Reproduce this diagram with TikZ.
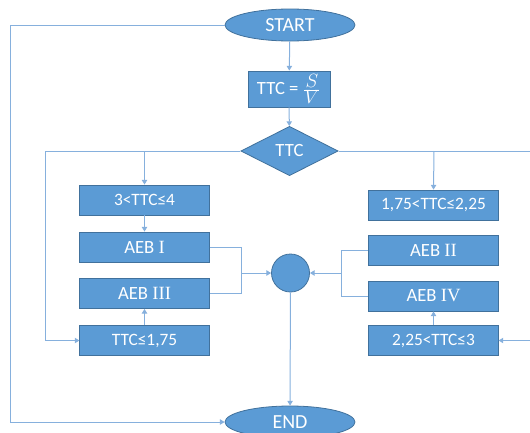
\documentclass[tikz,border=0pt]{standalone}
\usepackage{fontspec}
\setmainfont{Carlito}
\newfontfamily\numeralfont{Liberation Serif}
\usetikzlibrary{shapes.geometric,arrows.meta}
\definecolor{boxfill}{HTML}{5B9BD5}
\definecolor{boxedge}{HTML}{41719C}
\definecolor{linkcol}{HTML}{86B0DD}
\tikzset{
  x=0.75pt, y=-0.75pt,
  base/.style={fill=boxfill, draw=boxedge, line width=0.6pt, text=white, inner sep=0pt},
  terminal/.style={base, ellipse, minimum width=97.5pt, minimum height=24pt, font=\fontsize{15}{17}\selectfont},
  stepbox/.style={base, rectangle, minimum width=97pt, minimum height=22.5pt, font=\fontsize{14}{16}\selectfont},
  condbox/.style={base, rectangle, minimum width=97pt, minimum height=22.5pt, font=\fontsize{13}{15}\selectfont},
  decision/.style={base, diamond, aspect=2, minimum width=73pt, minimum height=37pt, font=\fontsize{14}{16}\selectfont},
  joint/.style={base, circle, minimum size=28.5pt},
  link/.style={draw=linkcol, line width=0.75pt},
  arrow/.style={link, -{Triangle[length=3.5pt, width=4pt]}},
}
\begin{document}
\begin{tikzpicture}
\useasboundingbox (0,0) rectangle (530,432);
% terminals and the formula
\node[terminal] (start) at (290,25) {START};
\node[stepbox, minimum width=61.5pt, minimum height=27pt] (calc) at (289,89) {TTC = $\frac{\textstyle S}{\textstyle V}$};
\node[decision] (test) at (289.5,151) {TTC};
\node[terminal] (end) at (290,422) {END};
% left column
\node[condbox] (c1) at (144.5,200) {3<TTC≤4};
\node[stepbox] (a1) at (144.5,247) {AEB {\numeralfont I}};
\node[stepbox] (a3) at (144.5,293.5) {AEB {\numeralfont III}};
\node[condbox] (c4) at (144.5,340.5) {TTC≤1,75};
% right column
\node[condbox] (c2) at (433.5,205) {1,75<TTC≤2,25};
\node[stepbox] (a2) at (433.5,250) {AEB {\numeralfont II}};
\node[stepbox] (a4) at (433.5,296) {AEB {\numeralfont IV}};
\node[condbox] (c3) at (433.5,340.5) {2,25<TTC≤3};
% merge point
\node[joint] (merge) at (290.5,273) {};
% helper points on the routing lines
\coordinate (lb) at (144.5,151);
\coordinate (rb) at (434,151);
\coordinate (lj) at (241,273);
\coordinate (rj) at (341,273);
% main flow
\draw[arrow] (start) -- (calc);
\draw[arrow] (calc) -- (test);
\draw[arrow] (start.west) -- (10,25) -- (10,422) -- (end.west);
% left branches
\draw[arrow] (test.west) -- (45,151) -- (45,340.5) -- (c4.west);
\draw[arrow] (lb) -- (c1.north);
\draw[arrow] (c1) -- (a1);
\draw[arrow] (c4) -- (a3);
\draw[link] (a1.east) -- (241,247) -- (241,293.5) -- (a3.east);
\draw[arrow] (lj) -- (merge.west);
% right branches
\draw[arrow] (test.east) -- (531,151) -- (531,340.5) -- (c3.east);
\draw[arrow] (rb) -- (c2.north);
\draw[arrow] (c3) -- (a4);
\draw[link] (a2.west) -- (341,250) -- (341,296) -- (a4.west);
\draw[arrow] (rj) -- (merge.east);
% to the end
\draw[arrow] (merge) -- (end);
\end{tikzpicture}
\end{document}
